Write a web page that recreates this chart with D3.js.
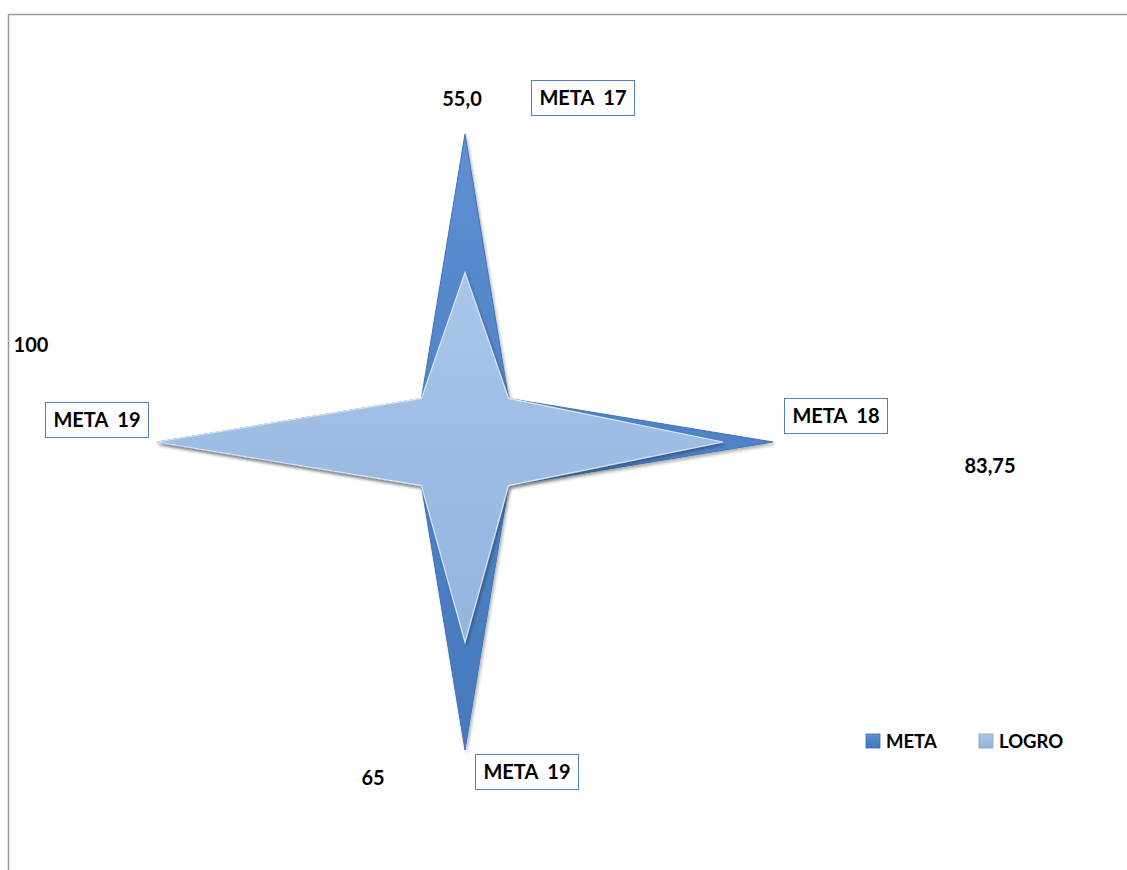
<!doctype html>
<html lang="es">
  <head>
    <meta charset="UTF-8" />
    <title>META vs LOGRO</title>
    <script src="https://d3js.org/d3.v7.min.js"></script>
    <style>
      body { margin: 0; background: #fff; }
      text { font-family: Lato, 'Open Sans', sans-serif; font-weight: bold; fill: #000; }
    </style>
  </head>
  <body>
    <svg width="1127" height="870"></svg>
    <script>
      // axes of the radar, clockwise from the top (blank ones are the inner corners)
      const categories = ['META 17', '', 'META 18', '', 'META 19', '', 'META 19', ''];
      const meta = [100, 20, 100, 20, 100, 20, 100, 20];
      const logro = [55, 20, 83.75, 20, 65, 20, 100, 20];
      const valueLabels = ['55,0', '', '83,75', '', '65', '', '100', ''];
      const seriesNames = ['META', 'LOGRO'];

      const svg = d3.select('svg');
      const cx = 465, cy = 442;
      const r = d3.scaleLinear().domain([0, 100]).range([0, 308]);
      const angle = d3.scalePoint()
        .domain(d3.range(categories.length))
        .range([0, 2 * Math.PI * (1 - 1 / categories.length)]);

      // chart frame (cut off at right and bottom)
      svg.append('rect')
        .attr('x', 8.5).attr('y', 14.5)
        .attr('width', 1140).attr('height', 880)
        .attr('fill', 'none')
        .attr('stroke', '#9a9a9a')
        .attr('stroke-width', 1.5);

      const defs = svg.append('defs');
      const grads = [
        { id: 'gMeta', c: ['#5e90d2', '#4f82c6', '#477abd'] },
        { id: 'gLogro', c: ['#aac7ea', '#9dbce4', '#94b4de'] },
      ];
      grads.forEach((g) => {
        const lg = defs.append('linearGradient')
          .attr('id', g.id)
          .attr('x1', 0).attr('y1', 0).attr('x2', 0).attr('y2', 1);
        lg.append('stop').attr('offset', '0%').attr('stop-color', g.c[0]);
        lg.append('stop').attr('offset', '50%').attr('stop-color', g.c[1]);
        lg.append('stop').attr('offset', '100%').attr('stop-color', g.c[2]);
      });
      defs.append('filter')
        .attr('id', 'shadow')
        .attr('x', '-10%').attr('y', '-10%')
        .attr('width', '120%').attr('height', '120%')
        .append('feDropShadow')
        .attr('dx', 1.5).attr('dy', 2.5)
        .attr('stdDeviation', 1.8)
        .attr('flood-color', '#000')
        .attr('flood-opacity', 0.3);

      const line = d3.lineRadial()
        .angle((d, i) => angle(i))
        .radius((d) => r(d))
        .curve(d3.curveLinearClosed);

      const plot = svg.append('g').attr('transform', `translate(${cx},${cy})`);

      plot.append('path')
        .datum(meta)
        .attr('d', line)
        .attr('fill', 'url(#gMeta)')
        .attr('stroke', '#4373b3')
        .attr('stroke-width', 1)
        .attr('filter', 'url(#shadow)');

      plot.append('path')
        .datum(logro)
        .attr('d', line)
        .attr('fill', 'url(#gLogro)')
        .attr('stroke', '#dbe8f7')
        .attr('stroke-width', 1.2)
        .attr('filter', 'url(#shadow)');

      // category label boxes
      const catPos = {
        0: { x: 583, y: 98 },
        2: { x: 836, y: 416 },
        4: { x: 527, y: 772 },
        6: { x: 97, y: 420 },
      };
      const catG = svg.append('g');
      categories.forEach((c, i) => {
        if (!c) return;
        const p = catPos[i];
        const g = catG.append('g').attr('transform', `translate(${p.x},${p.y})`);
        g.append('rect')
          .attr('x', -51.5).attr('y', -17.5)
          .attr('width', 103).attr('height', 35)
          .attr('fill', '#fff')
          .attr('stroke', '#4f81bd')
          .attr('stroke-width', 1);
        g.append('text')
          .attr('text-anchor', 'middle')
          .attr('dy', '0.36em')
          .style('font-size', '20px')
          .text(c.replace(' ', '\u00a0\u00a0'));
      });

      // value labels
      const valPos = {
        0: { x: 462, y: 99 },
        2: { x: 990, y: 466 },
        4: { x: 373, y: 778 },
        6: { x: 31, y: 345 },
      };
      valueLabels.forEach((v, i) => {
        if (!v) return;
        svg.append('text')
          .attr('x', valPos[i].x)
          .attr('y', valPos[i].y)
          .attr('dy', '0.36em')
          .attr('text-anchor', 'middle')
          .style('font-size', '20px')
          .text(v);
      });

      // legend
      const legend = svg.selectAll('.legend')
        .data(seriesNames)
        .enter()
        .append('g')
        .attr('class', 'legend')
        .attr('transform', (d, i) => `translate(${866 + i * 113},741)`);

      legend.append('rect')
        .attr('x', 0).attr('y', -7)
        .attr('width', 14).attr('height', 14)
        .attr('fill', (d, i) => (i === 0 ? 'url(#gMeta)' : 'url(#gLogro)'))
        .attr('stroke', (d, i) => (i === 0 ? '#3d6aa8' : '#7f9fc8'))
        .attr('stroke-width', 0.8);

      legend.append('text')
        .attr('x', 20)
        .attr('dy', '0.36em')
        .style('font-size', '18.5px')
        .text((d) => d);
    </script>
  </body>
</html>
